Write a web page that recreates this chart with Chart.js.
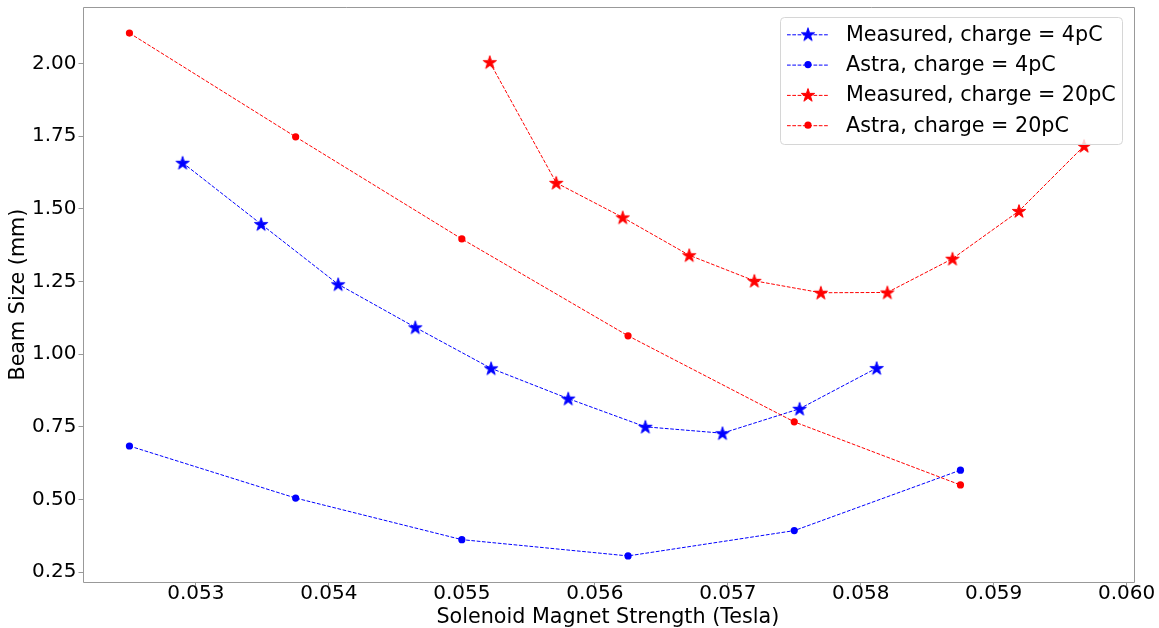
<!DOCTYPE html>
<html>
<head>
<meta charset="utf-8">
<script src="https://cdn.jsdelivr.net/npm/chart.js@4.4.1/dist/chart.umd.min.js"></script>
<style>
html, body { margin:0; padding:0; background:#fff; }
#wrap { width:1159px; height:628px; }
</style>
</head>
<body>
<div id="wrap"><canvas id="beamChart" width="1159" height="628"></canvas></div>
<script>
// ---- data (Tesla / mm) ----
const astraX    = [0.0525, 0.05375, 0.055, 0.05625, 0.0575, 0.05875];
const astra4pC  = [0.684, 0.505, 0.362, 0.306, 0.393, 0.601];
const astra20pC = [2.104, 1.747, 1.396, 1.063, 0.767, 0.550];

const meas4X   = [0.05290, 0.05349, 0.05407, 0.05465, 0.05522, 0.05580, 0.05638, 0.05696, 0.05754, 0.05812];
const meas4pC  = [1.658, 1.447, 1.240, 1.092, 0.951, 0.847, 0.750, 0.728, 0.812, 0.952];
const meas20X  = [0.05521, 0.05571, 0.05621, 0.05671, 0.05720, 0.05770, 0.05820, 0.05869, 0.05919, 0.05968];
const meas20pC = [2.004, 1.589, 1.470, 1.340, 1.252, 1.211, 1.212, 1.328, 1.492, 1.716];

const seriesLabels = ["Measured, charge = 4pC", "Astra, charge = 4pC", "Measured, charge = 20pC", "Astra, charge = 20pC"];
const xTicks = [0.053, 0.054, 0.055, 0.056, 0.057, 0.058, 0.059, 0.060];
const yTicks = [0.25, 0.50, 0.75, 1.00, 1.25, 1.50, 1.75, 2.00];

const FONT = "'DejaVu Sans', 'Liberation Sans', sans-serif";

function toPoints(xs, ys) {
	return xs.map((x, i) => ({ x: x, y: ys[i] }));
}

// filled 5 point star (matplotlib '*'), with same-colour edge
function makeStar(r, color) {
	let size = Math.ceil(r * 2 + 4);
	let cv = document.createElement("canvas");
	cv.width = size; cv.height = size;
	let sctx = cv.getContext("2d");
	let c = size / 2, ri = r * 0.382;
	sctx.beginPath();
	for (let i = 0; i < 10; i++) {
		let a = -Math.PI / 2 + i * Math.PI / 5;
		let rr = (i % 2 == 0) ? r : ri;
		sctx.lineTo(c + rr * Math.cos(a), c + 0.6 + rr * Math.sin(a));
	}
	sctx.closePath();
	sctx.fillStyle = color;
	sctx.fill();
	sctx.strokeStyle = color;
	sctx.lineWidth = 1;
	sctx.stroke();
	return cv;
}	// End of Function : makeStar

const starBlue = makeStar(7, "#0000ff");
const starRed  = makeStar(7, "#ff0000");

function series(label, pts, color, style, order) {
	return {
		label: label,
		data: pts,
		borderColor: color,
		backgroundColor: color,
		borderWidth: 1,
		borderDash: [3.7, 1.6],
		pointStyle: style,
		pointRadius: style == "circle" ? 3.6 : 7,
		pointBorderWidth: 0,
		pointBackgroundColor: color,
		tension: 0,
		order: order
	};
}

// matplotlib axes box
const framePlugin = {
	id: "frame",
	afterDatasetsDraw(chart) {
		const a = chart.chartArea, c = chart.ctx;
		c.save();
		c.beginPath();
		c.strokeStyle = "#999999";
		c.lineWidth = 1;
		c.setLineDash([]);
		c.rect(Math.round(a.left) + 0.5, Math.round(a.top) + 0.5, Math.round(a.right - a.left), Math.round(a.bottom - a.top));
		c.stroke();
		c.restore();
	}
};

// legend with dashed line sample + marker
const legendPlugin = {
	id: "mplLegend",
	afterDraw(chart) {
		const c = chart.ctx;
		let bx = 780, by = 17, bw = 342, bh = 127;
		c.save();
		c.beginPath();
		c.roundRect(bx + 0.5, by + 0.5, bw, bh, 4);
		c.fillStyle = "rgba(255,255,255,0.8)";
		c.fill();
		c.strokeStyle = "#d6d6d6";
		c.lineWidth = 1;
		c.setLineDash([]);
		c.stroke();
		c.font = "20.7px " + FONT;
		c.textBaseline = "middle";
		chart.data.datasets.forEach((ds, i) => {
			let y = 34.3 + i * 30.3;
			c.beginPath();
			c.setLineDash(ds.borderDash);
			c.strokeStyle = ds.borderColor;
			c.lineWidth = 1;
			c.moveTo(787, y + 0.5);
			c.lineTo(828, y + 0.5);
			c.stroke();
			c.setLineDash([]);
			if (ds.pointStyle == "circle") {
				c.beginPath();
				c.arc(808, y, 3.6, 0, Math.PI * 2);
				c.fillStyle = ds.borderColor;
				c.fill();
			} else {
				let img = ds.pointStyle;
				c.drawImage(img, 808 - img.width / 2, y - img.height / 2);
			}
			c.fillStyle = "#000";
			c.fillText(ds.label, 846, y + 1);
		});
		c.restore();
	}
};

new Chart(document.getElementById("beamChart"), {
	type: "line",
	data: {
		datasets: [
			series(seriesLabels[0], toPoints(meas4X, meas4pC), "#0000ff", starBlue, 4),
			series(seriesLabels[1], toPoints(astraX, astra4pC), "#0000ff", "circle", 3),
			series(seriesLabels[2], toPoints(meas20X, meas20pC), "#ff0000", starRed, 2),
			series(seriesLabels[3], toPoints(astraX, astra20pC), "#ff0000", "circle", 1)
		]
	},
	options: {
		responsive: false,
		animation: false,
		events: [],
		layout: { padding: { left: 0, top: 6.7, right: 25.7, bottom: 0 } },
		plugins: {
			legend: { display: false },
			tooltip: { enabled: false }
		},
		scales: {
			x: {
				type: "linear",
				min: 0.052147,
				max: 0.06005,
				afterBuildTicks: (scale) => { scale.ticks = xTicks.map(v => ({ value: v })); },
				afterFit: (scale) => { scale.height = 45.7; scale.paddingLeft = 0; scale.paddingRight = 0; },
				border: { display: false },
				grid: { drawOnChartArea: false, drawTicks: true, tickLength: 4, color: "#999999" },
				ticks: {
					autoSkip: false, maxRotation: 0, padding: -3,
					color: "#000",
					font: { family: FONT, size: 20, lineHeight: 1 },
					callback: (v) => Number(v).toFixed(3)
				},
				title: {
					display: true,
					text: "Solenoid Magnet Strength (Tesla)",
					color: "#000",
					font: { family: FONT, size: 20.7, lineHeight: 1 },
					padding: { top: 0, bottom: 0 }
				}
			},
			y: {
				type: "linear",
				min: 0.2153,
				max: 2.1936,
				afterBuildTicks: (scale) => { scale.ticks = yTicks.map(v => ({ value: v })); },
				afterFit: (scale) => { scale.width = 82.5; scale.paddingTop = 0; scale.paddingBottom = 0; },
				border: { display: false },
				grid: { drawOnChartArea: false, drawTicks: true, tickLength: 4, color: "#999999" },
				ticks: {
					autoSkip: false, padding: 2,
					color: "#000",
					font: { family: FONT, size: 20, lineHeight: 1 },
					callback: (v) => Number(v).toFixed(2)
				},
				title: {
					display: true,
					text: "Beam Size (mm)",
					color: "#000",
					font: { family: FONT, size: 20.7, lineHeight: 1 },
					padding: { top: 8, bottom: 0 }
				}
			}
		}
	},
	plugins: [framePlugin, legendPlugin]
});
</script>
</body>
</html>
